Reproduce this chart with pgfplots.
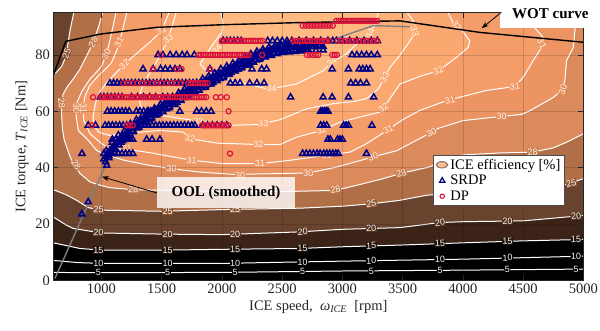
\documentclass[border=0pt]{standalone}
\usepackage{fontspec}
\setmainfont{Liberation Serif}
\setsansfont{Liberation Sans}
\usepackage{pgfplots}
\pgfplotsset{compat=1.18}
\usetikzlibrary{arrows.meta}
\definecolor{c15}{HTML}{3B2417}
\definecolor{c20}{HTML}{6A432E}
\definecolor{c25}{HTML}{B06F47}
\definecolor{c28}{HTML}{DB8A5C}
\definecolor{c30}{HTML}{EC9462}
\definecolor{c31}{HTML}{F59D69}
\definecolor{c32}{HTML}{FBA770}
\definecolor{c33}{HTML}{FDB078}
\definecolor{c34}{HTML}{FFBA82}
\definecolor{srdp}{rgb}{0.0,0.0,0.52}
\definecolor{dpc}{rgb}{0.86,0.08,0.24}
\tikzset{clab/.style={font=\sffamily\fontsize{9}{10}\selectfont, text=white!92!orange, inner sep=0.5pt}}
\newcommand\clab[5]{\node[clab,rotate=#3,fill=#5] at (axis cs:#1,#2) {#4};}
\begin{document}
\begin{tikzpicture}[x=1pt,y=1pt]
\begin{axis}[
  at={(0,0)}, anchor=south west, scale only axis,
  width=530pt, height=267.6pt,
  xmin=600, xmax=5000, ymin=0, ymax=95,
  xtick={1000,1500,...,5000}, ytick={0,20,...,80},
  scaled ticks=false,
  /pgf/number format/1000 sep={},
  /pgf/number format/assume math mode=true,
  tick align=inside, major tick length=5pt,
  grid=major, grid style={black, opacity=0.15, line width=0.6pt},
  axis on top,
  axis line style={line width=0.8pt, black!85},
  tick style={line width=0.6pt, black!85},
  axis background/.style={fill=black},
  ticklabel style={font=\fontsize{14.5}{16}\selectfont, text=black!85},
  label style={font=\fontsize{14.5}{16}\selectfont, text=black!85},
  xlabel={ICE speed,\ \ \textit{ω}\textsubscript{\textit{ICE}}\ \ [rpm]},
  ylabel={ICE torque,\ \textit{T}\textsubscript{\textit{ICE}} [Nm]},
  cline/.style={draw=white, line width=1.0pt, forget plot},
  legend style={at={(0.717,0.468)}, anchor=north west, font=\fontsize{14.5}{16}\selectfont,
    draw=black!70, line width=0.8pt, inner xsep=2pt, inner ysep=1.5pt, row sep=0.5pt, fill=white},
  legend cell align=left,
]
% contour lines (white) with the region above each level filled
\addplot[cline] coordinates {(560,2.8)(1000,2.7)(2000,2.8)(3000,3.3)(4000,3.6)(5040,4.0)};
\addplot[cline] coordinates {(560,7.2)(800,6.3)(1000,6.0)(2000,6.0)(3000,6.8)(4000,7.5)(5040,8.6)};
\addplot[cline, fill=c15] coordinates {(560,13.3)(600,13.3)(821,11.3)(1000,10.7)(1500,10.7)(2000,11.0)(2648,11.3)(3000,11.9)(3478,12.5)(4000,13.3)(4500,14.0)(5000,14.5)(5040,14.5)(5040,100)(560,100)};
\addplot[cline, fill=c20] coordinates {(560,22.5)(600,22.5)(700,19.8)(766,18.4)(1000,16.8)(1500,16.4)(2000,16.2)(2648,17.2)(3000,18.1)(3478,18.7)(3810,20.5)(4000,20.8)(4500,21.1)(5000,23.0)(5040,23.0)(5040,100)(560,100)};
\addplot[cline, fill=c25] coordinates {(560,32.2)(600,32.2)(700,30.5)(794,28.4)(890,25.8)(1000,24.9)(1500,24.5)(2000,25.1)(2648,25.6)(3000,26.3)(3250,27.2)(3478,28.4)(3700,30.2)(4000,31.2)(4300,32.2)(4700,33.5)(4860,34)(5000,36.1)(5040,36.1)(5040,100)(560,100)};
\addplot[cline, fill=c20] coordinates {(770,100)(770,95)(740,89)(718,83)(700,79)(670,76)(630,74)(600,73)(560,73)(560,100)};
\addplot[cline, fill=c28] coordinates {(1010,100)(1010,95)(975,90)(932,84.5)(880,80)(822,75)(766,71.5)(720,69)(680,66)(668,60)(675,54)(690,50)(739,43.8)(780,40.5)(822,37.9)(905,34.9)(1000,33.6)(1070,32.9)(1250,32.2)(1458,32.0)(2000,31.5)(2500,31.5)(2940,31.9)(3117,33.7)(3340,36.1)(3490,38.0)(3720,40.2)(3850,42.5)(4000,44.5)(4300,45.2)(4580,45.5)(4750,47)(4860,49)(5000,52)(5040,52)(5040,100)};
\addplot[cline, fill=c30] coordinates {(1120,100)(1120,95)(1080,87)(1043,80.4)(1000,76)(950,73.5)(905,71.5)(836,67)(795,63)(790,58)(808,53.2)(890,49.7)(960,46.1)(1043,44.4)(1200,42.5)(1400,40.8)(1582,39.6)(1819,38.4)(2093,37.6)(2511,37.9)(2717,38.1)(2952,40.2)(3256,43.8)(3450,46)(3650,50.5)(3800,54)(4003,56.7)(4322,58.2)(4488,58.9)(4556,60.2)(4750,64.9)(4820,67.4)(4847,70.9)(4861,78)(4917,82.7)(4930,88.6)(4950,95)(4950,100)};
\addplot[cline, fill=c31] coordinates {(1210,100)(1210,95)(1170,88)(1126,81.5)(1080,77)(1020,74.5)(960,72)(900,69)(860,65)(849,61)(852,56.7)(905,52)(988,49)(1057,46.8)(1200,46.5)(1375,45.5)(1749,42.6)(2011,41.4)(2316,41.4)(2565,42.6)(2869,44.4)(3063,45.5)(3201,48.5)(3381,53.5)(3500,57)(3643,60.3)(3865,63.8)(4197,67.4)(4432,68.8)(4500,72)(4584,78)(4654,82.7)(4667,86.2)(4630,88)(4560,91.5)(4500,95)(4500,100)};
\addplot[cline, fill=c32] coordinates {(1560,100)(1560,95)(1500,88.6)(1400,84.5)(1250,79)(1112,73.3)(1040,70)(988,67)(950,63)(930,58)(940,54.5)(980,52.5)(1070,51.4)(1300,52.5)(1485,53.2)(1678,52.6)(1735,50.3)(1956,48.7)(2302,48.2)(2482,48.2)(2620,50.8)(2828,53.2)(2980,56.1)(3150,58)(3312,59.7)(3340,61)(3478,69.7)(3650,72.5)(3800,74.4)(3948,79.2)(4045,82.7)(4058,85)(3975,89.8)(3920,91.5)(3878,95)(3878,100)};
\addplot[cline, fill=c33] coordinates {(1620,100)(1620,95)(1585,90)(1555,85.7)(1490,80)(1420,75)(1350,70)(1310,65)(1330,61)(1400,59.5)(1500,58.5)(1800,56.5)(2066,55)(2300,55.3)(2482,57)(2703,60.9)(2924,62.7)(3100,63.5)(3201,64.5)(3300,68)(3352,72)(3395,75.6)(3480,80)(3561,85)(3616,88.6)(3590,92)(3540,95)(3540,100)};
\addplot[cline, fill=c34] coordinates {(1990,100)(1990,95)(2010,91)(2000,88)(1926,83.9)(1817,76.8)(1900,73)(2093,70.9)(2371,68)(2413,68)(2620,69.7)(2841,74.4)(2911,77.4)(3035,80.4)(3118,83.9)(3200,87)(3260,90)(3300,95)(3300,100)};

% contour labels
\clab{975}{2.7}{0}{5}{black}\clab{1550}{2.75}{0}{5}{black}\clab{2110}{2.8}{0}{5}{black}\clab{2670}{3.1}{1}{5}{black}
\clab{3240}{3.3}{1}{5}{black}\clab{3810}{3.55}{1}{5}{black}\clab{4370}{3.8}{1}{5}{black}\clab{4940}{4.0}{1}{5}{black}
\clab{975}{6.0}{0}{10}{black}\clab{1550}{6.0}{0}{10}{black}\clab{2110}{6.05}{0}{10}{black}\clab{2670}{6.5}{2}{10}{black}
\clab{3240}{6.9}{2}{10}{black}\clab{3810}{7.4}{2}{10}{black}\clab{4370}{8.0}{2}{10}{black}\clab{4940}{8.5}{2}{10}{black}
\clab{975}{10.75}{0}{15}{c15!50!black}\clab{1550}{10.7}{0}{15}{c15!50!black}\clab{2110}{11.05}{0}{15}{c15!50!black}\clab{2670}{11.35}{2}{15}{c15!50!black}
\clab{3240}{12.2}{3}{15}{c15!50!black}\clab{3810}{13.0}{3}{15}{c15!50!black}\clab{4370}{13.8}{3}{15}{c15!50!black}\clab{4940}{14.45}{2}{15}{c15!50!black}
\clab{975}{16.9}{-2}{20}{c20!50!c15}\clab{1550}{16.4}{0}{20}{c20!50!c15}\clab{2110}{16.3}{0}{20}{c20!50!c15}\clab{2670}{17.2}{3}{20}{c20!50!c15}
\clab{3240}{18.4}{3}{20}{c20!50!c15}\clab{3810}{20.4}{6}{20}{c20!50!c15}\clab{4370}{21.0}{2}{20}{c20!50!c15}\clab{4940}{22.8}{8}{20}{c20!50!c15}
\clab{975}{25.0}{-3}{25}{c25!50!c20}\clab{1550}{24.5}{0}{25}{c25!50!c20}\clab{2110}{25.1}{0}{25}{c25!50!c20}\clab{3240}{27.2}{8}{25}{c25!50!c20}
\clab{4900}{34.5}{15}{25}{c25!50!c20}\clab{711}{80.4}{70}{25}{c25!50!c20}
\clab{932}{84.5}{58}{28}{c28!50!c25}\clab{670}{63}{-85}{28}{c28!50!c25}\clab{790}{41}{-55}{28}{c28!50!c25}\clab{1264}{32.2}{-3}{28}{c28!50!c25}
\clab{2942}{32.3}{10}{28}{c28!50!c25}\clab{3490}{38}{15}{28}{c28!50!c25}\clab{4580}{45.5}{5}{28}{c28!50!c25}
\clab{1040}{80.2}{62}{30}{c30!50!c28}\clab{793}{61}{-88}{30}{c30!50!c28}\clab{1043}{44.6}{-15}{30}{c30!50!c28}\clab{1582}{39.6}{-4}{30}{c30!50!c28}
\clab{2150}{37.3}{0}{30}{c30!50!c28}\clab{2717}{38.1}{5}{30}{c30!50!c28}\clab{3256}{43.8}{18}{30}{c30!50!c28}\clab{3740}{52.5}{22}{30}{c30!50!c28}
\clab{4322}{58.2}{5}{30}{c30!50!c28}\clab{4830}{67.8}{70}{30}{c30!50!c28}
\clab{1145}{84.5}{62}{31}{c31!50!c30}\clab{850}{61}{-90}{31}{c31!50!c30}\clab{1209}{46.8}{3}{31}{c31!50!c30}\clab{1749}{42.6}{-4}{31}{c31!50!c30}
\clab{2316}{41.4}{0}{31}{c31!50!c30}\clab{2869}{44.4}{8}{31}{c31!50!c30}\clab{3381}{53.5}{28}{31}{c31!50!c30}\clab{3893}{63.9}{15}{31}{c31!50!c30}
\clab{4432}{68.8}{8}{31}{c31!50!c30}\clab{4655}{84}{-60}{31}{c31!50!c30}
\clab{1190}{76.6}{38}{32}{c32!50!c31}\clab{1500}{88.6}{30}{32}{c32!50!c31}\clab{1735}{50.3}{-12}{32}{c32!50!c31}\clab{2302}{48.2}{0}{32}{c32!50!c31}\clab{2828}{53.2}{15}{32}{c32!50!c31}
\clab{3340}{61.2}{35}{32}{c32!50!c31}\clab{3797}{74.4}{22}{32}{c32!50!c31}\clab{3950}{90.2}{-55}{32}{c32!50!c31}
\clab{1555}{85.7}{35}{33}{c33!50!c32}\clab{1804}{56.4}{-5}{33}{c33!50!c32}\clab{2343}{55.6}{0}{33}{c33!50!c32}\clab{3352}{72.1}{60}{33}{c33!50!c32}
\clab{3600}{88.5}{-70}{33}{c33!50!c32}
\clab{1960}{82}{50}{34}{c34!50!c33}\clab{2413}{68.3}{0}{34}{c34!50!c33}\clab{2911}{77.4}{35}{34}{c34!50!c33}\clab{3230}{87.5}{70}{34}{c34!50!c33}

% WOT
\addplot[black, line width=1.4pt, forget plot] coordinates {(600,72.7)(703,84.8)(988,87.4)(1458,89.8)(1984,90.7)(2648,91.5)(3478,92.1)(4142,88.0)(4584,86.2)(5000,84.5)};
% OOL
\addplot[gray, line width=1.4pt, forget plot] coordinates {(614,0.7)(1071,44.4)(1300,55.5)(1600,63.5)(2000,73)(2300,79.5)(2500,81.6)(2703,82.3)(3256,90.4)(3561,90.0)};

% SRDP
\addplot[only marks, mark=triangle, mark size=3.5pt, mark options={draw=srdp, line width=1.5pt}, forget plot] coordinates {
(2010,85)(2040,85)(2070,85)(2100,85)(2130,85)(2160,85)(2380,85)(2420,85)(2460,85)(2500,85)(2540,85)(2580,85)(2640,85)(2700,85)(2760,85)(2820,85)(2880,85)(2920,85)(2950,85)(3000,85)(3060,85)(3120,85)(3180,85)(3240,85)(3290,85)
(1470,80)(1510,80)(1570,80)(1620,80)(1670,80)(1710,80)(1770,80)(3080,80)(3120,80)(3160,80)(3200,80)(3240,80)(3290,80)
(1345,75)(1430,75)(1490,75)(1530,75)(1570,75)(1610,75)(1650,75)(1900,75)(2070,75)(2100,75)(2130,75)(2250,75)(2330,75)(2370,75)(2915,75)(3050,75)(3140,75)(3170,75)(3200,75)(3230,75)
(1070,70)(1100,70)(1130,70)(1160,70)(1190,70)(1220,70)(1250,70)(1280,70)(1310,70)(1340,70)(1370,70)(1400,70)(1430,70)(1460,70)(1490,70)(1520,70)(1550,70)(1580,70)(1610,70)(1640,70)(1670,70)(1700,70)(1730,70)(1760,70)(1790,70)(1820,70)(1850,70)(1880,70)(1910,70)(2070,70)(2110,70)(2150,70)(2230,70)(2290,70)(2350,70)(3070,70)(3110,70)(3150,70)(3200,70)
(990,65)(1020,65)(1050,65)(1080,65)(1110,65)(1140,65)(1170,65)(1250,65)(1300,65)(1350,65)(1400,65)(1450,65)(1510,65)(1550,65)(1590,65)(1630,65)(2570,65)(2840,65)(2915,65)(3050,65)(3260,65)
(1050,60)(1080,60)(1110,60)(1140,60)(1170,60)(1200,60)(1230,60)(1290,60)(1320,60)(1350,60)(1380,60)(1410,60)(1440,60)(1465,60)(1650,60)(1790,60)(1830,60)(1870,60)(1910,60)(2820,60)(2835,60)(2850,60)(2865,60)(2880,60)
(890,55)(950,55)(1030,55)(1060,55)(1090,55)(1120,55)(1150,55)(1180,55)(1210,55)(1240,55)(1270,55)(1300,55)(1330,55)(1360,55)(1390,55)(1420,55)(1450,55)(1480,55)(1510,55)(1540,55)(1570,55)(1600,55)(1630,55)(1660,55)(1690,55)(1720,55)(1750,55)(1775,55)(1840,55)(1880,55)(1920,55)(1960,55)(2000,55)(2040,55)(2820,55)(2845,55)(2870,55)(3010,55)(3030,55)(3050,55)(3245,55)
(1090,50)(1120,50)(1150,50)(1180,50)(1210,50)(1240,50)(1260,50)(1375,50)(1420,50)(1485,50)(2880,50)(2900,50)(2960,50)(2980,50)(3000,50)
(838,45)(1020,45)(1050,45)(1080,45)(1110,45)(1140,45)(1170,45)(1200,45)(1230,45)(1260,45)(2670,45)(2700,45)(2730,45)(2760,45)(2790,45)(2815,45)(2845,45)(2870,45)(2895,45)(2920,45)(2945,45)(2965,45)(3200,45)
(1043,40.8)(890,27.8)(836,23.5)
(1020,43)(1045,44.5)(1070,46)(1100,47.5)(1130,49)(1160,50.5)(1190,51.5)(1220,53)(1250,54)(1280,55)(1310,56)(1340,57)(1370,58)(1400,58.8)(1430,59.6)(1460,60.3)(1490,61)(1520,61.8)(1550,62.6)(1580,63.4)(1610,64.2)(1640,65)(1670,65.8)(1700,66.6)(1730,67.3)(1760,68)(1790,68.6)(1820,69.3)(1850,70)(1880,70.6)(1910,71.3)(1940,72)(1970,72.6)(2000,73.3)(2030,74)(2060,74.7)(2090,75.4)(2120,76)(2150,76.7)(2180,77.3)(2210,78)(2240,78.6)(2270,79.2)(2300,79.8)(2330,80.3)(2360,80.8)(2390,81.2)(2420,81.6)(2450,81.9)(2480,82.1)(2510,82.3)(2540,82.4)(2570,82.5)(2600,82.6)(2630,82.7)(2660,82.8)(2690,82.9)(2720,83)(2750,83)(2780,83)(2810,83)(2840,83)
(1035,43.8)(1060,45.3)(1085,46.8)(1115,48.3)(1145,49.8)(1175,51.3)(1205,52.3)(1235,53.8)(1265,54.8)(1295,55.8)(1325,56.8)(1355,57.8)(1385,58.8)(1415,59.6)(1445,60.4)(1475,61.1)(1505,61.8)(1535,62.6)(1565,63.4)(1595,64.2)(1625,65)(1655,65.8)(1685,66.6)(1715,67.4)(1745,68.1)(1775,68.8)(1805,69.4)(1835,70.1)(1865,70.8)(1895,71.4)(1925,72.1)(1955,72.8)(1985,73.4)(2015,74.1)(2045,74.8)(2075,75.5)(2105,76.2)(2135,76.8)(2165,77.5)(2195,78.1)(2225,78.8)(2255,79.4)(2285,80)(2315,80.6)(2345,81.1)(2375,81.6)(2405,82)(2435,82.4)(2465,82.7)(2495,82.9)(2525,83.1)(2555,83.2)(2585,83.3)(2615,83.4)(2645,83.5)(2675,83.6)(2705,83.7)
(1035,42)(1060,43.5)(1085,45)(1115,46.5)(1145,48)(1175,49.5)(1205,50.5)(1235,52)(1265,53)(1295,54)(1325,55)(1355,56)(1385,57)(1415,57.8)(1445,58.6)(1475,59.3)(1505,60)(1535,60.8)(1565,61.6)(1595,62.4)(1625,63.2)(1655,64)(1685,64.8)(1715,65.6)(1745,66.3)(1775,67)(1805,67.6)(1835,68.3)(1865,69)(1895,69.6)(1925,70.3)(1955,71)(1985,71.6)(2015,72.3)(2045,73)(2075,73.7)(2105,74.4)(2135,75)(2165,75.7)(2195,76.3)(2225,77)(2255,77.6)(2285,78.2)(2315,78.8)(2345,79.3)(2375,79.8)(2405,80.2)(2435,80.6)(2465,80.9)(2495,81.1)(2525,81.3)(2555,81.4)(2585,81.5)(2615,81.6)(2645,81.7)(2675,81.8)(2705,81.9)
(1040,46)(1090,49)(1140,51.5)(1190,53)(1240,55.5)(1290,57)(1340,58.5)(1390,60)(1440,61)(1490,62.5)(1540,64)(1590,65)(1640,66.5)(1690,68)(1740,69)(1790,70)(1840,71.5)(1890,72.5)(1940,73.5)(1990,75)(2040,76)(2090,77)(2140,78)(2190,79.3)(2240,80.3)(2290,81.2)(2340,82)(2390,82.7)(2440,83.2)(2490,83.6)(2540,83.8)(2590,84)(2640,84)(2700,84)(2760,83.8)(2820,83.5)
(1060,44.3)(1110,46.8)(1160,49)(1210,51)(1260,52.7)(1310,54.3)(1360,55.9)(1410,57.3)(1460,58.6)(1510,59.8)(1560,61.1)(1610,62.4)(1660,63.8)(1710,65.1)(1760,66.3)(1810,67.4)(1860,68.5)(1910,69.6)(1960,70.8)(2010,71.9)(2060,73.1)(2110,74.3)(2160,75.3)(2210,76.4)(2260,77.4)(2310,78.3)(2360,79.2)(2410,79.8)(2460,80.4)(2510,80.8)(2560,81)(2610,81.2)(2660,81.4)(2720,81.5)(2780,81.6)(2840,81.7)
};
% DP
\addplot[only marks, mark=o, mark size=2.6pt, mark options={draw=dpc, line width=1.2pt}, forget plot] coordinates {
(2950,92.1)(2970,92.1)(2990,92.1)(3010,92.1)(3030,92.1)(3050,92.1)(3070,92.1)(3090,92.1)(3110,92.1)(3130,92.1)(3150,92.1)(3170,92.1)(3190,92.1)(3210,92.1)(3230,92.1)(3250,92.1)(3270,92.1)(3290,92.1)
(2670,90.4)(2695,90.4)(2720,90.4)(2745,90.4)(2770,90.4)(2795,90.4)(2820,90.4)(2845,90.4)(2870,90.4)(2895,90.4)(2920,90.4)
(2000,85)(2020,85)(2040,85)(2060,85)(2080,85)(2100,85)(2120,85)(2140,85)(2160,85)(2180,85)(2200,85)(2220,85)(2240,85)(2260,85)(2280,85)(2300,85)(2320,85)(2340,85)
(2590,85)(2610,85)(2630,85)(2650,85)(2670,85)(2690,85)(2710,85)(2730,85)(2750,85)(2770,85)(2790,85)(2810,85)(2830,85)(2850,85)(2870,85)(2890,85)
(2960,85)(2990,85)(3020,85)(3050,85)(3080,85)(3110,85)(3140,85)(3170,85)(3200,85)(3230,85)(3260,85)(3290,85)
(1495,80)(1805,80)(1825,80)(1845,80)(1865,80)(1885,80)(1905,80)(1925,80)(1945,80)(1965,80)(1985,80)(2005,80)(2025,80)(2045,80)(2065,80)(2085,80)(2105,80)(2125,80)(2145,80)(2165,80)(2185,80)(2205,80)(2225,80)(2334,80)
(2705,80)(2730,80)(2755,80)(2780,80)(2800,80)(2915,80)(2935,80)(2955,80)
(1428,75)(1625,75)(1665,75)(1900,75)
(1180,70)(1220,70)(1260,70)(1300,70)(1340,70)(1380,70)(1420,70)(1460,70)(1500,70)(1540,70)(1580,70)(1620,70)(1660,70)(1720,70)(1740,70)(1760,70)(1780,70)(1800,70)(1820,70)(1840,70)(1860,70)(1880,70)
(930,65)(990,65)(1010,65)(1030,65)(1050,65)(1070,65)(1090,65)(1110,65)(1130,65)(1150,65)(1170,65)(1190,65)(1210,65)(1230,65)(1250,65)(1270,65)(1290,65)(1310,65)(1330,65)(1350,65)(1370,65)(1390,65)(1410,65)(1430,65)(1450,65)(1470,65)(1490,65)(1510,65)(1530,65)(1550,65)(1570,65)(1590,65)(1610,65)(1630,65)(1650,65)(1670,65)(1690,65)(1710,65)(1730,65)(1750,65)(1770,65)(1790,65)(1810,65)(1830,65)(1850,65)(1870,65)(1950,65)(1990,65)(2040,65)
(2055,60)
(920,55)(1210,55)(1235,55)(1260,55)(1835,55)(1855,55)(1875,55)(1895,55)(1915,55)(1935,55)(1955,55)(1975,55)(1995,55)(2015,55)(2035,55)(2055,55)
(2067,45)
};
% legend entries
\addlegendimage{legend image code/.code={
  \draw[draw=black!55, fill=c28, line width=0.6pt] (0.35em,0) ellipse (0.6em and 0.33em);
  \draw[draw=white, fill=c33, line width=0.4pt] (0.35em,0) ellipse (0.35em and 0.17em);}}
\addlegendentry{ICE efficiency [\%]}
\addlegendimage{only marks, mark=triangle, mark size=3.0pt, mark options={draw=srdp, line width=1.3pt}}
\addlegendentry{SRDP}
\addlegendimage{only marks, mark=o, mark size=2.2pt, mark options={draw=dpc, line width=1.1pt}}
\addlegendentry{DP}
\end{axis}
% annotations (picture coords: x = px-53.3, y = 280.3-py)
\node[fill=white, inner sep=0pt, minimum width=100pt, minimum height=28pt, anchor=north west] at (446.7,280.3) {};
\node[font=\bfseries\fontsize{15}{17}\selectfont] at (497,267) {WOT curve};
\draw[-{Stealth[length=7pt,width=5pt]}, line width=0.8pt] (448,268) -- (428.4,252);
\node[fill=white, fill opacity=0.8, text opacity=1, minimum width=138pt, minimum height=31pt, inner sep=0pt, font=\bfseries\fontsize{15}{17}\selectfont] at (172.7,87.3) {OOL (smoothed)};
\draw[-{Stealth[length=7pt,width=5pt]}, line width=0.8pt] (103.7,87.3) -- (48.7,103.6);
\pgfresetboundingbox
\path[use as bounding box] (-53.3,-50.7) rectangle (546.7,280.3);
\end{tikzpicture}
\end{document}
